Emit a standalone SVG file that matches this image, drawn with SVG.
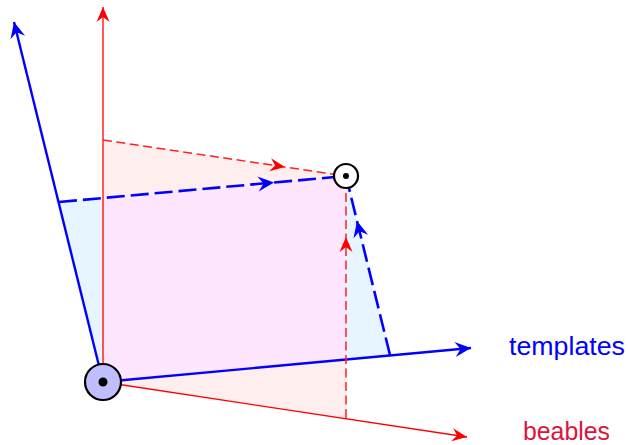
<svg xmlns="http://www.w3.org/2000/svg" width="628" height="445" viewBox="0 0 628 445">
<style>
.red{stroke:#ff0000;stroke-width:1.3;fill:none}
.blue{stroke:#0000ff;stroke-width:2.4;fill:none}
.rdash{stroke:#ff2020;stroke-width:1.5;fill:none;stroke-dasharray:9 4.5}
.bdash{stroke:#0000ff;stroke-width:2.6;fill:none;stroke-dasharray:18 6}
.lbl{font-family:"Liberation Sans",Arial,sans-serif;font-size:25px}
</style>
<defs>
<marker id="ar" markerUnits="userSpaceOnUse" viewBox="-16 -8 18 16" refX="0" refY="0" markerWidth="18" markerHeight="16" orient="auto">
<path d="M0,0 L-15,-6.5 L-10,0 L-15,6.5 Z" fill="#ff0000"/>
</marker>
<marker id="ab" markerUnits="userSpaceOnUse" viewBox="-17 -9 19 18" refX="0" refY="0" markerWidth="19" markerHeight="18" orient="auto">
<path d="M0,0 L-16,-7.5 L-10.5,0 L-16,7.5 Z" fill="#0000ff"/>
</marker>
</defs>
<g id="regions">
<polygon points="103,382 103,140 346,176 346,418" fill="#ffeeee"/>
<polygon points="103,382 59,202 346,176 390,355" fill="#e6f5ff"/>
<polygon points="103,382 103,198 346,176 346,359.5" fill="#ffe6ff"/>
</g>
<g id="connectors">
<line id="red-y" class="red" x1="103" y1="382" x2="103" y2="7" marker-end="url(#ar)"/>
<line id="red-x" class="red" x1="103" y1="382" x2="467" y2="437" marker-end="url(#ar)"/>
<line id="blue-y" class="blue" x1="103" y1="382" x2="14" y2="22" marker-end="url(#ab)"/>
<line id="blue-x" class="blue" x1="103" y1="382" x2="471" y2="348" marker-end="url(#ab)"/>
<path id="red-top" class="rdash" d="M103,140 L285,167 L346,176" marker-mid="url(#ar)"/>
<path id="red-vert" class="rdash" d="M346,418 L346,237 L346,176" marker-mid="url(#ar)"/>
<path id="blue-top" class="bdash" d="M59,202 L274,182.5 L346,176" marker-mid="url(#ab)"/>
<path id="blue-right" class="bdash" stroke-dasharray="14 7" d="M390,355 L357,221 L346,176" marker-mid="url(#ab)"/>
</g>
<g id="origin">
<circle cx="103" cy="382" r="18" fill="#bfbfff" stroke="#000" stroke-width="2.2"/>
<circle cx="103" cy="382" r="4.5" fill="#000"/>
</g>
<g id="point">
<circle cx="346" cy="176" r="12" fill="#fff" stroke="#000" stroke-width="2.2"/>
<circle cx="346" cy="176" r="3" fill="#000"/>
</g>
<g id="labels">
<text class="lbl" x="509" y="355" fill="#0000ff" textLength="116" lengthAdjust="spacingAndGlyphs">templates</text>
<text class="lbl" x="523" y="440" fill="#dc143c" textLength="87" lengthAdjust="spacingAndGlyphs">beables</text>
</g>
</svg>
